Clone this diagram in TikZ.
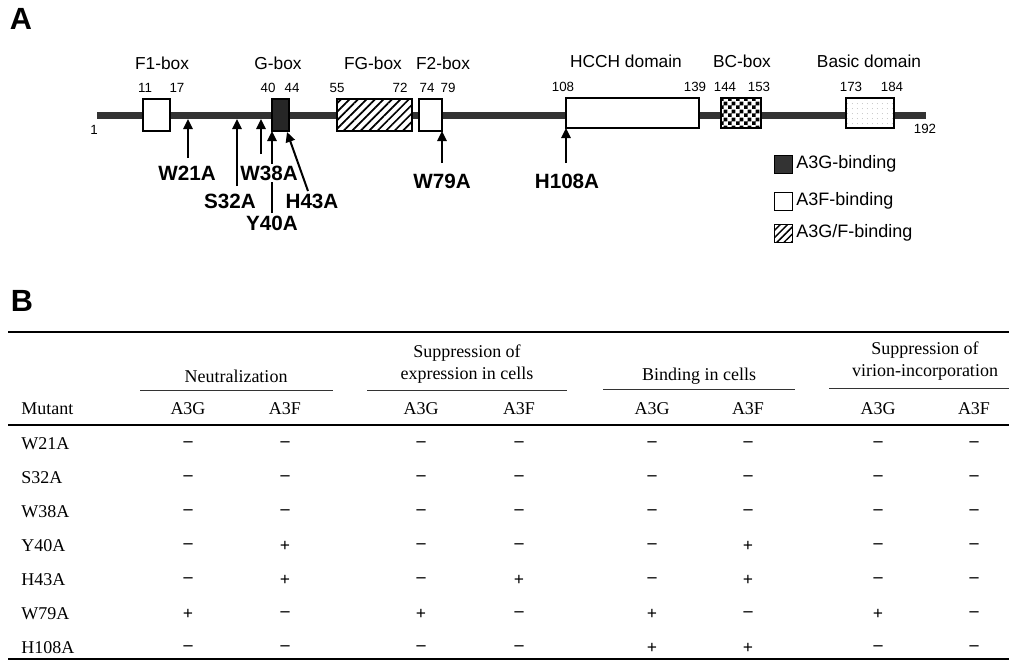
\documentclass[tikz,border=0pt]{standalone}
\usepackage{fontspec}
\setmainfont{Liberation Serif}
\newfontfamily\arial{Liberation Sans}
\usetikzlibrary{arrows.meta,patterns,patterns.meta,fit}
\pgfdeclarepatternformonly{mychecker}{\pgfqpoint{0pt}{0pt}}{\pgfqpoint{6pt}{6pt}}{\pgfqpoint{6pt}{6pt}}{%
 \pgfpathrectangle{\pgfqpoint{0pt}{0pt}}{\pgfqpoint{3pt}{3pt}}%
 \pgfpathrectangle{\pgfqpoint{3pt}{3pt}}{\pgfqpoint{3pt}{3pt}}%
 \pgfusepath{fill}}
\begin{document}
\begin{tikzpicture}[x=0.75pt,y=-0.75pt,
  panel/.style={font=\arial\bfseries\fontsize{23}{23}\selectfont, inner sep=0},
  boxlbl/.style={font=\arial\fontsize{13}{13}\selectfont, inner sep=0},
  num/.style={font=\arial\fontsize{10}{10}\selectfont, inner sep=0},
  mut/.style={font=\arial\bfseries\fontsize{15.5}{15.5}\selectfont, inner sep=1pt},
  dom/.style={fit={#1}, inner sep=0, draw=black, line width=0.8pt},
  arr/.style={line width=1.5pt, -{Triangle[length=7.5pt,width=7pt]}},
  leg/.style={font=\arial\fontsize{13.5}{13.5}\selectfont, anchor=west, inner sep=0},
  legbox/.style={fit={#1}, inner sep=0, draw, line width=0.6pt},
  tab/.style={font=\fontsize{13.5}{13.5}\selectfont, inner sep=0},
  sym/.style={font=\bfseries\fontsize{13.5}{13.5}\selectfont, inner sep=0},
  hdr/.style={font=\fontsize{13.5}{16.5}\selectfont, inner sep=0, align=center},
]
\useasboundingbox (0,0) rectangle (1011,661);

% ---------- Panel A ----------
\node[panel] (A) at (21,19) {A};

\node[fit={(97,112) (926,119)}, inner sep=0, fill=black!80] (bar) {};

\node[dom={(143,99) (170,131)}, fill=white] (f1) {};
\node[dom={(272,99) (289,131)}, fill=black!85] (g) {};
\node[dom={(337,99) (412,131)}, preaction={fill=white}, pattern={Lines[angle=45,distance=4.5pt,line width=1.3pt]}] (fg) {};
\node[dom={(419,99) (442,131)}, fill=white] (f2) {};
\node[dom={(566,98) (699,128)}, fill=white] (hcch) {};
\node[dom={(721,98) (761,128)}, preaction={fill=white}, pattern=mychecker] (bc) {};
\node[dom={(846,98) (894,128)}, preaction={fill=white}, pattern={Dots[distance=4pt,radius=0.35pt]}, pattern color=gray!70] (basic) {};

\node[boxlbl] (lf1) at (162,63) {F1-box};
\node[boxlbl] (lg) at (278,63) {G-box};
\node[boxlbl] (lfg) at (373,63) {FG-box};
\node[boxlbl] (lf2) at (443,63) {F2-box};
\node[boxlbl] (lh) at (626,61) {HCCH domain};
\node[boxlbl] (lbc) at (742,61) {BC-box};
\node[boxlbl] (lba) at (869,61) {Basic domain};

\node[num] (n1) at (94,130) {1};
\node[num] (n11) at (145,88) {11};
\node[num] (n17) at (177,88) {17};
\node[num] (n40) at (268,88) {40};
\node[num] (n44) at (292,88) {44};
\node[num] (n55) at (337,88) {55};
\node[num] (n72) at (400,88) {72};
\node[num] (n74) at (427,88) {74};
\node[num] (n79) at (448,88) {79};
\node[num] (n108) at (563,87) {108};
\node[num] (n139) at (695,87) {139};
\node[num] (n144) at (725,87) {144};
\node[num] (n153) at (759,87) {153};
\node[num] (n173) at (851,87) {173};
\node[num] (n184) at (892,87) {184};
\node[num] (n192) at (925,129) {192};

% arrow targets / starts
\coordinate (t21) at (188,119); \coordinate (s21) at (188,158);
\coordinate (t32) at (237,119); \coordinate (s32) at (237,186);
\coordinate (t38) at (261,119); \coordinate (s38) at (261,154);
\coordinate (t40) at (272,131); \coordinate (s40) at (272,213);
\coordinate (t43) at (287,132); \coordinate (s43) at (308,191);
\coordinate (t79) at (442,131); \coordinate (s79) at (442,163);
\coordinate (t108) at (566,128); \coordinate (s108) at (566,163);

\draw[arr] (s40) -- (t40);
\node[mut] (w21a) at (187,173) {W21A};
\node[mut] (s32a) at (230,201) {S32A};
\node[mut, fill=white] (w38a) at (269,173) {W38A};
\node[mut] (y40a) at (272,223) {Y40A};
\node[mut] (h43a) at (312,201) {H43A};
\node[mut] (w79a) at (442,181) {W79A};
\node[mut] (h108a) at (567,181) {H108A};

\draw[arr] (s21) -- (t21);
\draw[arr] (s32) -- (t32);
\draw[arr] (s38) -- (t38);
\draw[arr] (s43) -- (t43);
\draw[arr] (s79) -- (t79);
\draw[arr] (s108) -- (t108);

% legend
\node[legbox={(774,155) (792,173)}, fill=black!80] (lgG) {};
\node[legbox={(774,192) (792,210)}, fill=white] (lgF) {};
\node[legbox={(774,224) (792,242)}, pattern={Lines[angle=45,distance=3.8pt,line width=1.1pt]}] (lgGF) {};
\node[leg] (tG) at (796,164) {A3G-binding};
\node[leg] (tF) at (796,201) {A3F-binding};
\node[leg] (tGF) at (796,233) {A3G/F-binding};

% ---------- Panel B ----------
\node[panel] (B) at (22,301) {B};

\coordinate (topL) at (8,332); \coordinate (topR) at (1009,332);
\draw[line width=2.2pt] (topL) -- (topR);

\node[hdr] (h1) at (236,376) {Neutralization};
\node[hdr] (h2) at (467,364) {Suppression of\\expression in cells};
\node[hdr] (h3) at (699,376) {Binding in cells};
\node[hdr] (h4) at (925,361) {Suppression of\\virion-incorporation};

\coordinate (g1a) at (140,390); \coordinate (g1b) at (333,390);
\coordinate (g2a) at (367,390); \coordinate (g2b) at (567,390);
\coordinate (g3a) at (603,389); \coordinate (g3b) at (795,389);
\coordinate (g4a) at (829,388); \coordinate (g4b) at (1009,388);
\draw[line width=0.7pt, black!80] (g1a) -- (g1b) (g2a) -- (g2b) (g3a) -- (g3b) (g4a) -- (g4b);

\node[tab, anchor=west] (mutant) at (21,409) {Mutant};
\def\colx{{188,285,421,519,652,748,878,974}}
\foreach \j in {1,...,8}{
  \pgfmathsetmacro{\cx}{\colx[\j-1]}
  \ifodd\j
    \node[tab] (hc\j) at (\cx,409) {A3G};
  \else
    \node[tab] (hc\j) at (\cx,409) {A3F};
  \fi
}
\coordinate (midL) at (8,425); \coordinate (midR) at (1009,425);
\draw[line width=1.1pt] (midL) -- (midR);

\foreach \nm/\vals [count=\i] in {
  W21A/{0,0,0,0,0,0,0,0},
  S32A/{0,0,0,0,0,0,0,0},
  W38A/{0,0,0,0,0,0,0,0},
  Y40A/{0,1,0,0,0,1,0,0},
  H43A/{0,1,0,1,0,1,0,0},
  W79A/{1,0,1,0,1,0,1,0},
  H108A/{0,0,0,0,1,1,0,0}}{
  \pgfmathsetmacro{\ry}{444+34*(\i-1)}
  \node[tab, anchor=west] (r\i) at (21,\ry) {\nm};
  \foreach \v [count=\j] in \vals {
    \pgfmathsetmacro{\cx}{\colx[\j-1]}
    \ifnum\v=1
      \node[sym] (r\i c\j) at (\cx,\ry) {+};
    \else
      \node[sym] (r\i c\j) at (\cx,\ry) {\textendash};
    \fi
  }
}
\coordinate (botL) at (8,659); \coordinate (botR) at (1009,659);
\draw[line width=1.5pt] (botL) -- (botR);
\end{tikzpicture}
\end{document}
